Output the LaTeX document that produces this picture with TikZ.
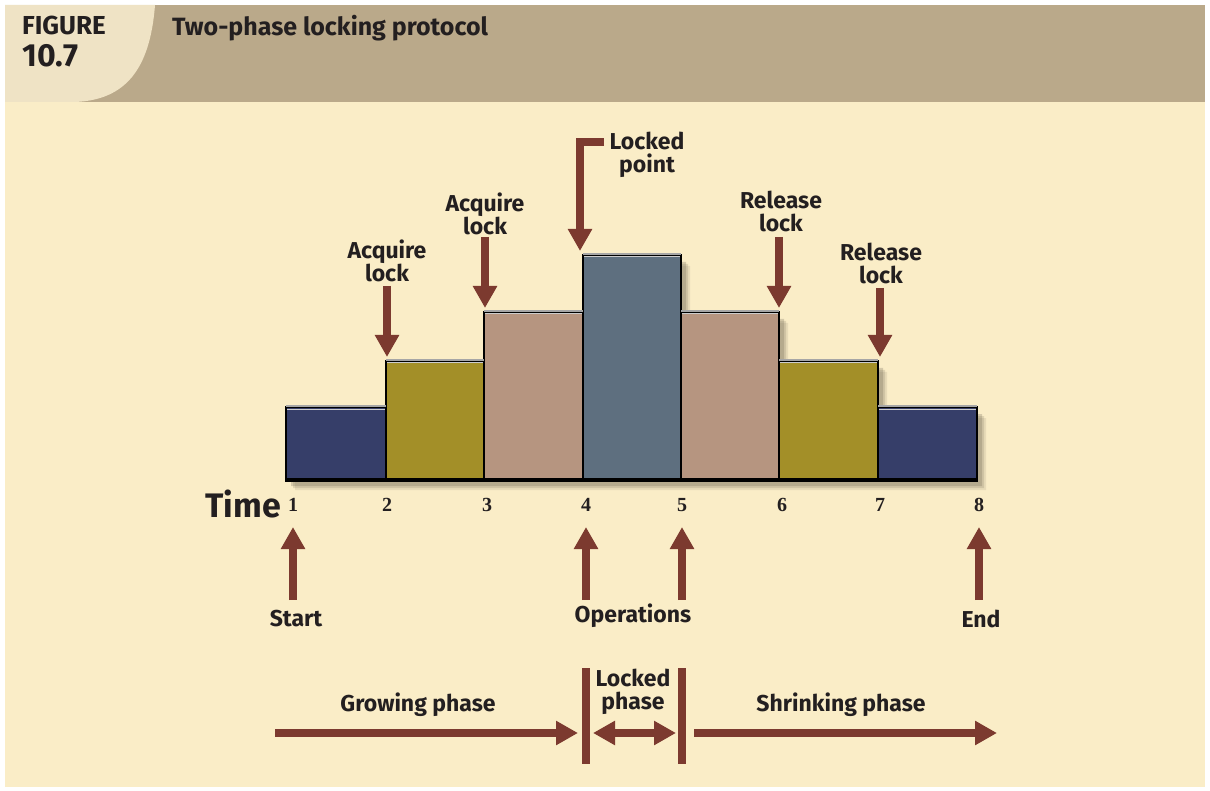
\documentclass[tikz,border=0pt]{standalone}
\usepackage{fontspec}
\setmainfont{Fira Sans}
\newfontfamily\numfont{Liberation Serif}
\usetikzlibrary{arrows.meta}
\definecolor{hdrtan}{HTML}{BAA98A}
\definecolor{hdrcream}{HTML}{EFE3C5}
\definecolor{panel}{HTML}{FAEDC7}
\definecolor{rust}{HTML}{7C3A2F}
\definecolor{ink}{HTML}{231F20}
\definecolor{navy}{HTML}{363E69}
\definecolor{olive}{HTML}{A38F28}
\definecolor{clay}{HTML}{B69580}
\definecolor{slate}{HTML}{5E6F7F}
\begin{document}
\begin{tikzpicture}[x=1pt,y=-1pt,
  lbl/.style={font=\bfseries\fontsize{23}{23}\selectfont, text=ink, align=center, inner sep=0pt},
  num/.style={font=\numfont\bfseries\fontsize{20}{22}\selectfont, text=ink, inner sep=0pt},
  arr/.style={draw=rust, line width=8pt, -{Triangle[length=22pt,width=23pt]}},
  bar/.style={draw=black, line width=2pt, inner sep=0pt, anchor=south west},
  bline/.style={draw=rust, line width=8pt}]
\useasboundingbox (0,0) rectangle (1210,791);
\fill[white] (0,0) rectangle (1210,791);
% header band
\fill[hdrtan] (5,5) rectangle (1205,102);
\fill[hdrcream] (5,5) -- (155,5) .. controls (150,70) and (125,100) .. (75,102) -- (5,102) -- cycle;
\fill[panel] (5,102) rectangle (1205,787);
\node[anchor=base west, inner sep=0pt, text=ink, font=\bfseries\fontsize{26}{28}\selectfont] (figword) at (22,35) {FIGURE};
\node[anchor=base west, inner sep=0pt, text=ink, font=\bfseries\fontsize{32}{34}\selectfont] (fignum) at (22,67) {10.7};
\node[anchor=base west, inner sep=0pt, text=ink, font=\bfseries\fontsize{25}{27}\selectfont] (title) at (172,36) {Two-phase locking protocol};

% soft shadow under the step profile
\foreach \d/\o in {10/0.12,8/0.18,6/0.25}{
  \fill[black!45!hdrtan, opacity=\o, shift={(\d,\d)}]
    (285,480) -- (285,408) -- (385,408) -- (385,362) -- (483,362) -- (483,313)
    -- (582,313) -- (582,256) -- (680,256) -- (680,313) -- (778,313) -- (778,362)
    -- (877,362) -- (877,408) -- (976,408) -- (976,480) -- cycle;
}
% bars
\node[bar, fill=navy,  minimum width=100pt, minimum height=72pt]  (b1) at (285,480) {};
\node[bar, fill=olive, minimum width=98pt,  minimum height=118pt] (b2) at (385,480) {};
\node[bar, fill=clay,  minimum width=99pt,  minimum height=167pt] (b3) at (483,480) {};
\node[bar, fill=slate, minimum width=98pt,  minimum height=224pt] (b4) at (582,480) {};
\node[bar, fill=clay,  minimum width=98pt,  minimum height=167pt] (b5) at (680,480) {};
\node[bar, fill=olive, minimum width=99pt,  minimum height=118pt] (b6) at (778,480) {};
\node[bar, fill=navy,  minimum width=99pt,  minimum height=72pt]  (b7) at (877,480) {};
% lighter top edges
\foreach \b in {b1,b2,b3,b4,b5,b6,b7}{
  \draw[gray!70, line width=2.5pt] ([xshift=1pt]\b.north west) -- ([xshift=-1pt]\b.north east);
  \draw[gray!40, line width=1pt] ([xshift=2pt,yshift=-3pt]\b.north west) -- ([xshift=-2pt,yshift=-3pt]\b.north east);
}
\draw[black, line width=3pt] (b1.south west) -- (b7.south east);

% time axis
\node[anchor=base east, inner sep=0pt, text=ink, font=\bfseries\fontsize{34}{36}\selectfont] (time) at (281,517) {Time};
\foreach \i/\x in {1/293,2/387,3/487,4/586,5/682,6/782,7/880,8/979}{
  \node[num, anchor=base] (t\i) at (\x,511) {\i};
}

% events below the axis
\node[lbl] (start) at (296,619) {Start};
\node[lbl] (ops) at (633,616) {Operations};
\node[lbl] (end) at (981,619) {End};
\coordinate (s1) at (293,600); \coordinate (e1) at (293,527);
\coordinate (s4) at (586,600); \coordinate (e4) at (586,527);
\coordinate (s5) at (682,600); \coordinate (e5) at (682,527);
\coordinate (s8) at (979,600); \coordinate (e8) at (979,527);
\draw[arr] (s1) -- (e1);
\draw[arr] (s4) -- (e4);
\draw[arr] (s5) -- (e5);
\draw[arr] (s8) -- (e8);

% lock events above the bars
\node[lbl] (acq1) at (387,261) {Acquire\\lock};
\node[lbl] (acq2) at (485,214) {Acquire\\lock};
\node[lbl] (lockpt) at (647,155) {Locked\\point};
\node[lbl] (rel1) at (781,211) {Release\\lock};
\node[lbl] (rel2) at (881,263) {Release\\lock};
\coordinate (a1s) at (387,286); \coordinate (a1e) at (387,357);
\coordinate (a2s) at (485,237); \coordinate (a2e) at (485,308);
\coordinate (lps) at (604,142); \coordinate (lpc) at (580,142); \coordinate (lpe) at (580,251);
\coordinate (r1s) at (779,237); \coordinate (r1e) at (779,308);
\coordinate (r2s) at (880,288); \coordinate (r2e) at (880,357);
\draw[arr] (a1s) -- (a1e);
\draw[arr] (a2s) -- (a2e);
\draw[arr, miter limit=10] (lps) -- (lpc) -- (lpe);
\draw[arr] (r1s) -- (r1e);
\draw[arr] (r2s) -- (r2e);

% phases
\node[lbl] (grow) at (418,705) {Growing phase};
\node[lbl] (lphase) at (633,692) {Locked\\phase};
\node[lbl] (shrink) at (841,705) {Shrinking phase};
\coordinate (g1) at (275,733); \coordinate (g2) at (578,733);
\coordinate (v1a) at (586,668); \coordinate (v1b) at (586,764);
\coordinate (v2a) at (682,668); \coordinate (v2b) at (682,764);
\coordinate (l1) at (593,733); \coordinate (l2) at (676,733);
\coordinate (h1) at (694,733); \coordinate (h2) at (997,733);
\draw[arr] (g1) -- (g2);
\draw[bline] (v1a) -- (v1b);
\draw[bline] (v2a) -- (v2b);
\draw[arr, {Triangle[length=22pt,width=23pt]}-{Triangle[length=22pt,width=23pt]}] (l1) -- (l2);
\draw[arr] (h1) -- (h2);
\end{tikzpicture}
\end{document}
